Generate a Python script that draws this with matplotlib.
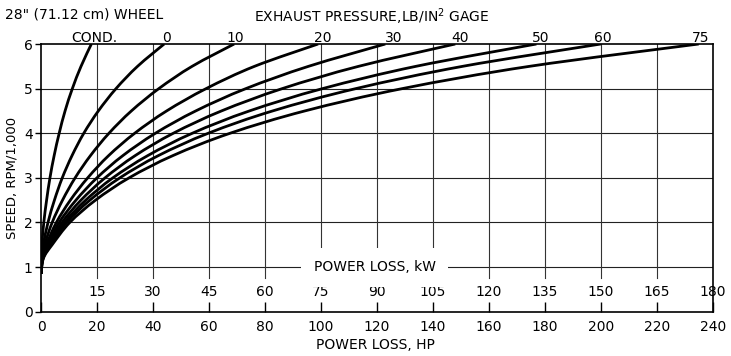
import matplotlib
matplotlib.use("Agg")
import numpy as np
import matplotlib.pyplot as plt
from matplotlib.path import Path
from matplotlib.patches import PathPatch

plt.rcParams['font.family'] = ['DejaVu Sans']

# speed levels (rpm/1000) at which the curves were read
speed = [0.85, 1.2, 1.5, 2, 2.5, 3, 3.5, 4, 4.5, 5, 5.5, 6]

# power loss (HP) of each exhaust pressure curve at those speeds
curves = {
    'COND.': [0, 0.05, 0.3, 1.0, 2.0, 3.2, 4.7, 6.5, 8.6, 11.2, 14.3, 18],
    '0': [0, 0.15, 0.8, 2.5, 4.8, 7.6, 11.1, 15.3, 20.5, 26.8, 34.5, 44],
    '10': [0, 0.25, 1.3, 4.0, 7.7, 12.2, 17.7, 24.3, 32.3, 42.1, 54.0, 69],
    '20': [0, 0.4, 1.9, 5.5, 10.5, 16.7, 24.2, 33.5, 44.9, 59.0, 76.3, 99],
    '30': [0, 0.5, 2.3, 6.5, 12.5, 20.0, 29.3, 40.9, 55.3, 73.2, 95.6, 123],
    '40': [0, 0.6, 2.7, 7.5, 14.3, 22.9, 33.7, 47.3, 64.5, 86.2, 113.5, 148],
    '50': [0, 0.7, 3.1, 8.4, 16.0, 25.7, 38.2, 54.1, 74.5, 100.6, 134.0, 177],
    '60': [0, 0.8, 3.5, 9.2, 17.5, 28.2, 42.0, 59.8, 82.8, 112.5, 150.7, 200],
    '75': [0, 0.9, 4.0, 10.3, 19.5, 31.5, 47.2, 67.6, 94.3, 129.1, 174.6, 235],
}
# where the pressure label sits above each curve (HP)
label_x = [19, 44.7, 69.4, 100.5, 126, 149.7, 178.5, 200.7, 235.7]

hp_ticks = list(range(0, 241, 20))
kw_ticks = list(range(15, 181, 15))


def smooth_path(xs, ys):
    # catmull-rom through the read points, drawn as cubic bezier pieces
    p = np.column_stack([xs, ys]).astype(float)
    p = np.vstack([p[0], p, p[-1]])
    verts = [p[1]]
    codes = [Path.MOVETO]
    for i in range(1, len(p) - 2):
        c1 = p[i] + (p[i + 1] - p[i - 1]) / 6
        c2 = p[i + 1] - (p[i + 2] - p[i]) / 6
        verts += [c1, c2, p[i + 1]]
        codes += [Path.CURVE4] * 3
    return Path(verts, codes)


fig = plt.figure(figsize=(7.31, 3.56), dpi=100)
ax = fig.add_axes([0.0561, 0.1247, 0.9189, 0.7517])
ax.set_xlim(0, 240)
ax.set_ylim(0, 6)

for y in range(1, 6):
    ax.axhline(y, color='#222222', lw=0.8, zorder=1)
for x in hp_ticks[1:-1]:
    ax.axvline(x, ymin=0.125, color='#333333', lw=0.8, zorder=1)

for name, hp in curves.items():
    patch = PathPatch(smooth_path(hp, speed), fill=False, ec='black', lw=2,
                      capstyle='butt', zorder=3)
    ax.add_patch(patch)

for name, x in zip(curves.keys(), label_x):
    ax.text(x, 6.14, name, ha='center', va='center', fontsize=10, clip_on=False)

for kw in kw_ticks:
    ax.text(kw / 0.75, 0.45, str(kw), ha='center', va='center', fontsize=10)

ax.text(119.3, 1.0, 'POWER LOSS, kW', ha='center', va='center', fontsize=10,
        bbox=dict(boxstyle='square,pad=0.9', fc='white', ec='none'), zorder=4)

ax.set_xticks(hp_ticks)
ax.set_yticks(range(0, 7))
ax.tick_params(axis='x', direction='in', length=7, width=1, pad=6, labelsize=10)
ax.tick_params(axis='y', direction='out', length=4, width=1, pad=2, labelsize=10)
for s in ax.spines.values():
    s.set_linewidth(1.2)

ax.set_ylabel('SPEED, RPM/1,000', fontsize=9.5)
ax.yaxis.set_label_coords(-0.034, 0.5)
fig.text(0.514, 0.031, 'POWER LOSS, HP', ha='center', va='center', fontsize=10)
fig.text(0.508, 0.952, 'EXHAUST PRESSURE,LB/IN$^2$ GAGE', ha='center', va='center', fontsize=10)
fig.text(5 / 731, 1 - 15 / 356, '28" (71.12 cm) WHEEL', ha='left', va='center', fontsize=10)

fig.savefig('out.png', dpi=100)
